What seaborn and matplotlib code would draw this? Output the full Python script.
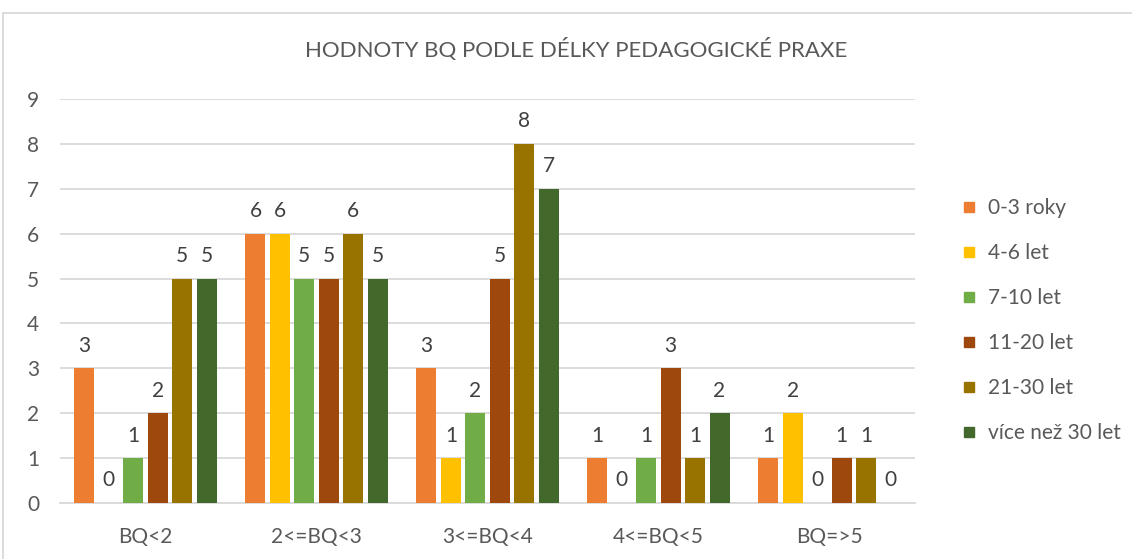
import matplotlib
matplotlib.use("Agg")
import matplotlib.pyplot as plt
from matplotlib.lines import Line2D
from matplotlib.patches import Rectangle
import seaborn as sns
import pandas as pd

categories = ["BQ<2", "2<=BQ<3", "3<=BQ<4", "4<=BQ<5", "BQ=>5"]
series = ["0-3 roky", "4-6 let", "7-10 let", "11-20 let", "21-30 let", "více než 30 let"]
values_0_3 = [3, 6, 3, 1, 1]
values_4_6 = [0, 6, 1, 0, 2]
values_7_10 = [1, 5, 2, 1, 0]
values_11_20 = [2, 5, 5, 3, 1]
values_21_30 = [5, 6, 8, 1, 1]
values_30plus = [5, 5, 7, 2, 0]
colors = ["#ED7D31", "#FFC000", "#70AD47", "#9E480E", "#997300", "#43682B"]
title = "HODNOTY BQ PODLE DÉLKY PEDAGOGICKÉ PRAXE"

all_values = [values_0_3, values_4_6, values_7_10, values_11_20, values_21_30, values_30plus]
rows = []
for s, vals in zip(series, all_values):
    for c, v in zip(categories, vals):
        rows.append({"cat": c, "series": s, "value": v})
df = pd.DataFrame(rows)

sns.set_theme(style="white")
plt.rcParams["font.family"] = ["Lato", "DejaVu Sans"]

fig = plt.figure(figsize=(11.32, 5.59), dpi=100)
ax = fig.add_axes([60 / 1132, 1 - 503 / 559, (915 - 60) / 1132, (503 - 99) / 559])

sns.barplot(data=df, x="cat", y="value", hue="series", order=categories,
            hue_order=series, palette=colors, width=0.857, ax=ax,
            legend=False, saturation=1, zorder=3)

# shrink bars to leave white gaps
for p in ax.patches:
    w = p.get_width()
    nw = w * 0.82
    p.set_x(p.get_x() + (w - nw) / 2)
    p.set_width(nw)
    p.set_edgecolor("none")

for cont in ax.containers:
    ax.bar_label(cont, fmt="%g", padding=9, fontsize=15, color="#404040",
                 bbox=dict(facecolor="white", edgecolor="none", pad=2), zorder=4)

ax.set_ylim(0, 9)
ax.set_xlim(-0.5, len(categories) - 0.5)
ax.set_yticks(range(0, 10))
ax.yaxis.grid(True, color="#D9D9D9", linewidth=1.3, zorder=0)
ax.set_axisbelow(True)
for s in ["top", "right", "left"]:
    ax.spines[s].set_visible(False)
ax.spines["bottom"].set_color("#D9D9D9")
ax.spines["bottom"].set_linewidth(1.3)
ax.set_xlabel("")
ax.set_ylabel("")
ax.tick_params(axis="y", length=0, pad=15, labelsize=15, labelcolor="#595959")
ax.tick_params(axis="x", which="major", length=0, pad=17, labelsize=15, labelcolor="#595959")
ax.set_xticks([i - 0.5 for i in range(len(categories) + 1)], minor=True)
ax.tick_params(axis="x", which="minor", length=5, width=1.3, color="#D9D9D9", direction="out")

fig.text(576 / 1132, 1 - 50 / 559, title, ha="center", va="center", fontsize=16,
         color="#595959")

handles = [Line2D([0], [0], marker="s", linestyle="none", markersize=7,
                  markerfacecolor=c, markeredgecolor=c) for c in colors]
fig.legend(handles, series, loc="upper left", bbox_to_anchor=(950 / 1132, 1 - 188 / 559),
           frameon=False, fontsize=15, labelcolor="#595959", handlelength=0.8,
           handletextpad=0.5, labelspacing=1.2, borderpad=0)

fig.patches.append(Rectangle((3 / 1132, -0.1), 1.2, 1 - 13 / 559 + 0.1,
                             transform=fig.transFigure, fill=False,
                             edgecolor="#D9D9D9", linewidth=1.3))

fig.savefig("out.png", dpi=100)
